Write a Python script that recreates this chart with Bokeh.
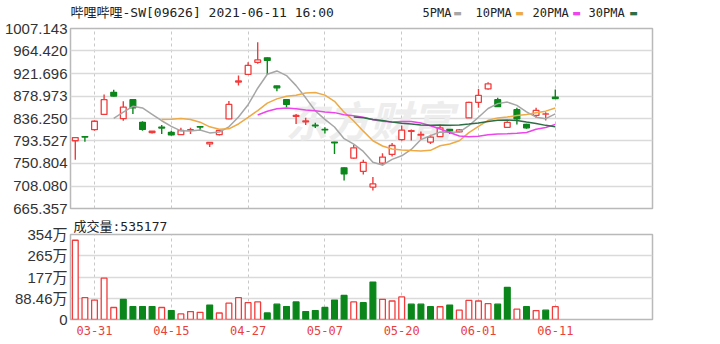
import pandas as pd
from bokeh.plotting import figure
from bokeh.layouts import column
from bokeh.models import Range1d, FixedTicker, ColumnDataSource, Label, PrintfTickFormatter
from bokeh.embed import file_html
from bokeh.resources import INLINE

# ---------------- data ----------------
stock_title = "哔哩哔哩-SW[09626] 2021-06-11 16:00"
dates = ["03-29", "03-30", "03-31", "04-01", "04-07", "04-08", "04-09", "04-12", "04-13", "04-14",
         "04-15", "04-16", "04-19", "04-20", "04-21", "04-22", "04-23", "04-26", "04-27", "04-28",
         "04-29", "04-30", "05-03", "05-04", "05-05", "05-06", "05-07", "05-10", "05-11", "05-12",
         "05-13", "05-14", "05-17", "05-18", "05-20", "05-21", "05-24", "05-25", "05-26", "05-27",
         "05-28", "05-31", "06-01", "06-02", "06-03", "06-04", "06-07", "06-08", "06-09", "06-10",
         "06-11"]
opens = [794, 802, 815, 844, 886, 836, 872, 829, 809.5, 820,
         810, 805.5, 814, 821, 788, 805.5, 835.5, 905.5, 920, 943,
         951.5, 898, 872, 840.5, 830, 823.5, 815.5, 791.5, 742.5, 761,
         736, 706, 751.5, 768, 796, 812, 804.5, 791.5, 802, 815.5,
         811, 837.5, 867, 892.5, 872, 819.5, 853, 825, 842, 844.5,
         877]
highs = [800, 803, 833, 882, 891, 869, 873, 831, 812.5, 824,
         813, 818.5, 818.5, 821.5, 791.5, 815, 869.5, 918, 943, 981,
         952, 898.5, 872.5, 845, 837.5, 828, 819.5, 792, 743, 786,
         758, 725, 770.5, 789.5, 823, 815.5, 811.5, 805.5, 824.5, 816.5,
         816.5, 868, 892.5, 905, 875.5, 831, 856.5, 826.5, 856.5, 848,
         891.5]
lows = [758, 792, 813, 843, 878, 832, 845, 813, 808, 807,
        804, 805, 807, 813.5, 782, 804, 835, 899, 919, 940,
        919, 888, 857.5, 826, 824, 818, 808, 769, 718.5, 759.5,
        730, 699.5, 747, 764, 794, 794.5, 797.5, 788, 801.5, 807,
        809.5, 837, 856.5, 891, 858, 818, 825, 817, 837.5, 832.5,
        873.5]
closes = [800, 801, 831, 872, 879, 858, 856.5, 815.5, 812, 818,
          805, 813.5, 815, 820, 791, 813.5, 863, 907.5, 937, 947.5,
          946.5, 894.5, 863, 842, 831.5, 822.5, 814.5, 790, 731, 780.5,
          753, 712, 763, 785, 814, 813, 806, 801, 818.5, 813,
          814.5, 867, 880, 902, 859, 829, 835.5, 818.5, 851.5, 845,
          874]
volumes_wan = [330, 91, 81, 172, 50, 84, 54, 54, 54, 50,
               37, 23, 33, 30, 60, 27, 68, 91, 70, 73,
               27, 64, 54, 73, 33, 37, 50, 81, 100, 73,
               70, 156, 84, 77, 94, 64, 64, 53, 53, 60,
               39, 80, 77, 66, 64, 134, 43, 53, 37, 39,
               53.5177]
price_ticks = [665.357, 708.080, 750.804, 793.527, 836.250, 878.973, 921.696, 964.420, 1007.143]
vol_ticks = [0, 88.46, 176.92, 265.38, 353.84]
vol_tick_labels = ["0", "88.46万", "177万", "265万", "354万"]
date_tick_idx = [2, 10, 18, 26, 34, 42, 50]
ma_periods = [5, 10, 20, 30]
ma_labels = ["5PMA", "10PMA", "20PMA", "30PMA"]
ma_colors = ["#a6a6a6", "#eeaa44", "#ee44ee", "#2e6e46"]

# ---------------- styles ----------------
RED = "#f23c3c"
GREEN = "#0b861b"
MONO = "DejaVu Sans Mono, Noto Sans CJK SC"
SANS = "Liberation Sans, Noto Sans CJK SC"
BL, BR = 70, 68  # left / right borders (frame spans x = 70 .. 652)

n = len(dates)
idx = list(range(n))
up = [c >= o for o, c in zip(opens, closes)]
vol_up = [True] + [closes[i] >= closes[i - 1] for i in range(1, n)]

src = ColumnDataSource(dict(
    x=idx, o=opens, h=highs, l=lows, c=closes,
    top=[max(o, c) for o, c in zip(opens, closes)],
    bot=[min(o, c) for o, c in zip(opens, closes)],
    col=[RED if u else GREEN for u in up],
    fill=["white" if u else GREEN for u in up],
    vol=volumes_wan,
    vcol=[RED if u else GREEN for u in vol_up],
    vfill=["white" if u else GREEN for u in vol_up],
))

X0, X1 = -0.5, 60.125
Y0, Y1 = price_ticks[0], price_ticks[-1]
V1 = vol_ticks[-1]


def px_x(px):
    return (px - 70) / (582 / (X1 - X0)) + X0


def px_y1(py):
    return Y1 - (py - 28) * (Y1 - Y0) / 180


def style_axis(ax):
    ax.axis_line_color = None
    ax.major_tick_line_color = None
    ax.minor_tick_line_color = None
    ax.major_tick_out = 0
    ax.major_tick_in = 0
    ax.minor_tick_out = 0
    ax.minor_tick_in = 0


# ---------------- header strip (page pixel coordinates) ----------------
hdr = figure(width=720, height=20, x_range=Range1d(70, 652), y_range=Range1d(20, 0),
             output_backend="svg", toolbar_location=None, x_axis_location=None,
             y_axis_location=None, min_border_left=BL, min_border_right=BR,
             min_border_top=0, min_border_bottom=0)
hdr.outline_line_color = None
hdr.grid.visible = False
hdr.background_fill_color = "white"
hdr.border_fill_color = "white"
hdr.add_layout(Label(x=70, y=12, text=stock_title, text_font=MONO,
                     text_font_size="13px", text_color="#222222", text_baseline="middle"))
leg_text_px = [422, 475, 532, 588]
leg_dash_px = [457, 519, 576, 633]
for lab, col, tx, dx in zip(ma_labels, ma_colors, leg_text_px, leg_dash_px):
    hdr.add_layout(Label(x=tx, y=12, text=lab, text_font=MONO,
                         text_font_size="12px", text_color="#222222", text_baseline="middle"))
    hdr.add_layout(Label(x=dx, y=12, text="▬", text_font="DejaVu Sans",
                         text_font_size="9px", text_color=col, text_baseline="middle",
                         text_align="center"))

# ---------------- price figure ----------------
p1 = figure(width=720, height=196, x_range=Range1d(X0, X1), y_range=Range1d(Y0, Y1),
            output_backend="svg", toolbar_location=None, x_axis_location=None,
            min_border_left=BL, min_border_right=BR, min_border_top=8, min_border_bottom=8)
p1.background_fill_color = "white"
p1.border_fill_color = "white"
p1.outline_line_color = "#b9b9b9"
p1.outline_line_width = 1.5
p1.yaxis.ticker = FixedTicker(ticks=price_ticks)
p1.yaxis.formatter = PrintfTickFormatter(format="%.3f")
style_axis(p1.yaxis[0])
p1.yaxis.major_label_standoff = 3
p1.yaxis.major_label_text_font = SANS
p1.yaxis.major_label_text_font_size = "15px"
p1.yaxis.major_label_text_color = "#333333"
p1.ygrid.ticker = FixedTicker(ticks=price_ticks)
p1.ygrid.grid_line_color = "#dadada"
p1.ygrid.grid_line_width = 1.5
p1.xgrid.ticker = FixedTicker(ticks=date_tick_idx)
p1.xgrid.grid_line_color = "#c8c8c8"
p1.xgrid.grid_line_dash = "3 3"

wm = Label(x=px_x(285), y=px_y1(118), text="东方财富", text_font="Noto Sans CJK SC",
           text_font_size="42px", text_font_style="bold italic", text_color="#ededed",
           text_baseline="middle", text_align="left", level="underlay")
p1.add_layout(wm)

p1.segment(x0="x", y0="l", x1="x", y1="h", line_color="col", line_width=1.4, source=src)
p1.vbar(x="x", width=0.6, top="top", bottom="bot", fill_color="fill", line_color="col",
        line_width=1.3, source=src)

cs = pd.Series(closes)
for per, col in zip(ma_periods, ma_colors):
    ma = cs.rolling(per).mean()
    p1.line(idx, ma.tolist(), line_color=col, line_width=1.5)

# ---------------- volume figure ----------------
p2 = figure(width=720, height=128, x_range=p1.x_range, y_range=Range1d(0, V1),
            output_backend="svg", toolbar_location=None,
            min_border_left=BL, min_border_right=BR, min_border_top=17, min_border_bottom=25)
p2.title.text = "成交量:%d" % round(volumes_wan[-1] * 10000)
p2.title.align = "left"
p2.title.offset = 3
p2.title.standoff = 1
p2.title.text_font = MONO
p2.title.text_font_size = "13px"
p2.title.text_font_style = "normal"
p2.title.text_color = "#222222"
p2.background_fill_color = "white"
p2.border_fill_color = "white"
p2.outline_line_color = "#b9b9b9"
p2.outline_line_width = 1.5
p2.yaxis.ticker = FixedTicker(ticks=vol_ticks)
p2.yaxis.major_label_overrides = dict(zip(vol_ticks, vol_tick_labels))
style_axis(p2.yaxis[0])
p2.yaxis.major_label_standoff = 3
p2.yaxis.major_label_text_font = SANS
p2.yaxis.major_label_text_font_size = "15px"
p2.yaxis.major_label_text_color = "#333333"
p2.xaxis.ticker = FixedTicker(ticks=date_tick_idx)
p2.xaxis.major_label_overrides = {i: dates[i] for i in date_tick_idx}
style_axis(p2.xaxis[0])
p2.xaxis.major_label_standoff = 6
p2.xaxis.major_label_text_font = MONO
p2.xaxis.major_label_text_font_size = "12px"
p2.xaxis.major_label_text_color = "#e8413c"
p2.ygrid.ticker = FixedTicker(ticks=vol_ticks)
p2.ygrid.grid_line_color = "#dadada"
p2.ygrid.grid_line_width = 1.5
p2.xgrid.ticker = FixedTicker(ticks=date_tick_idx)
p2.xgrid.grid_line_color = "#c8c8c8"
p2.xgrid.grid_line_dash = "3 3"

p2.vbar(x="x", width=0.6, top="vol", bottom=0, fill_color="vfill", line_color="vcol",
        line_width=1.3, source=src)

layout = column(hdr, p1, p2, spacing=0)
open("out.html", "w").write(file_html(layout, INLINE))
